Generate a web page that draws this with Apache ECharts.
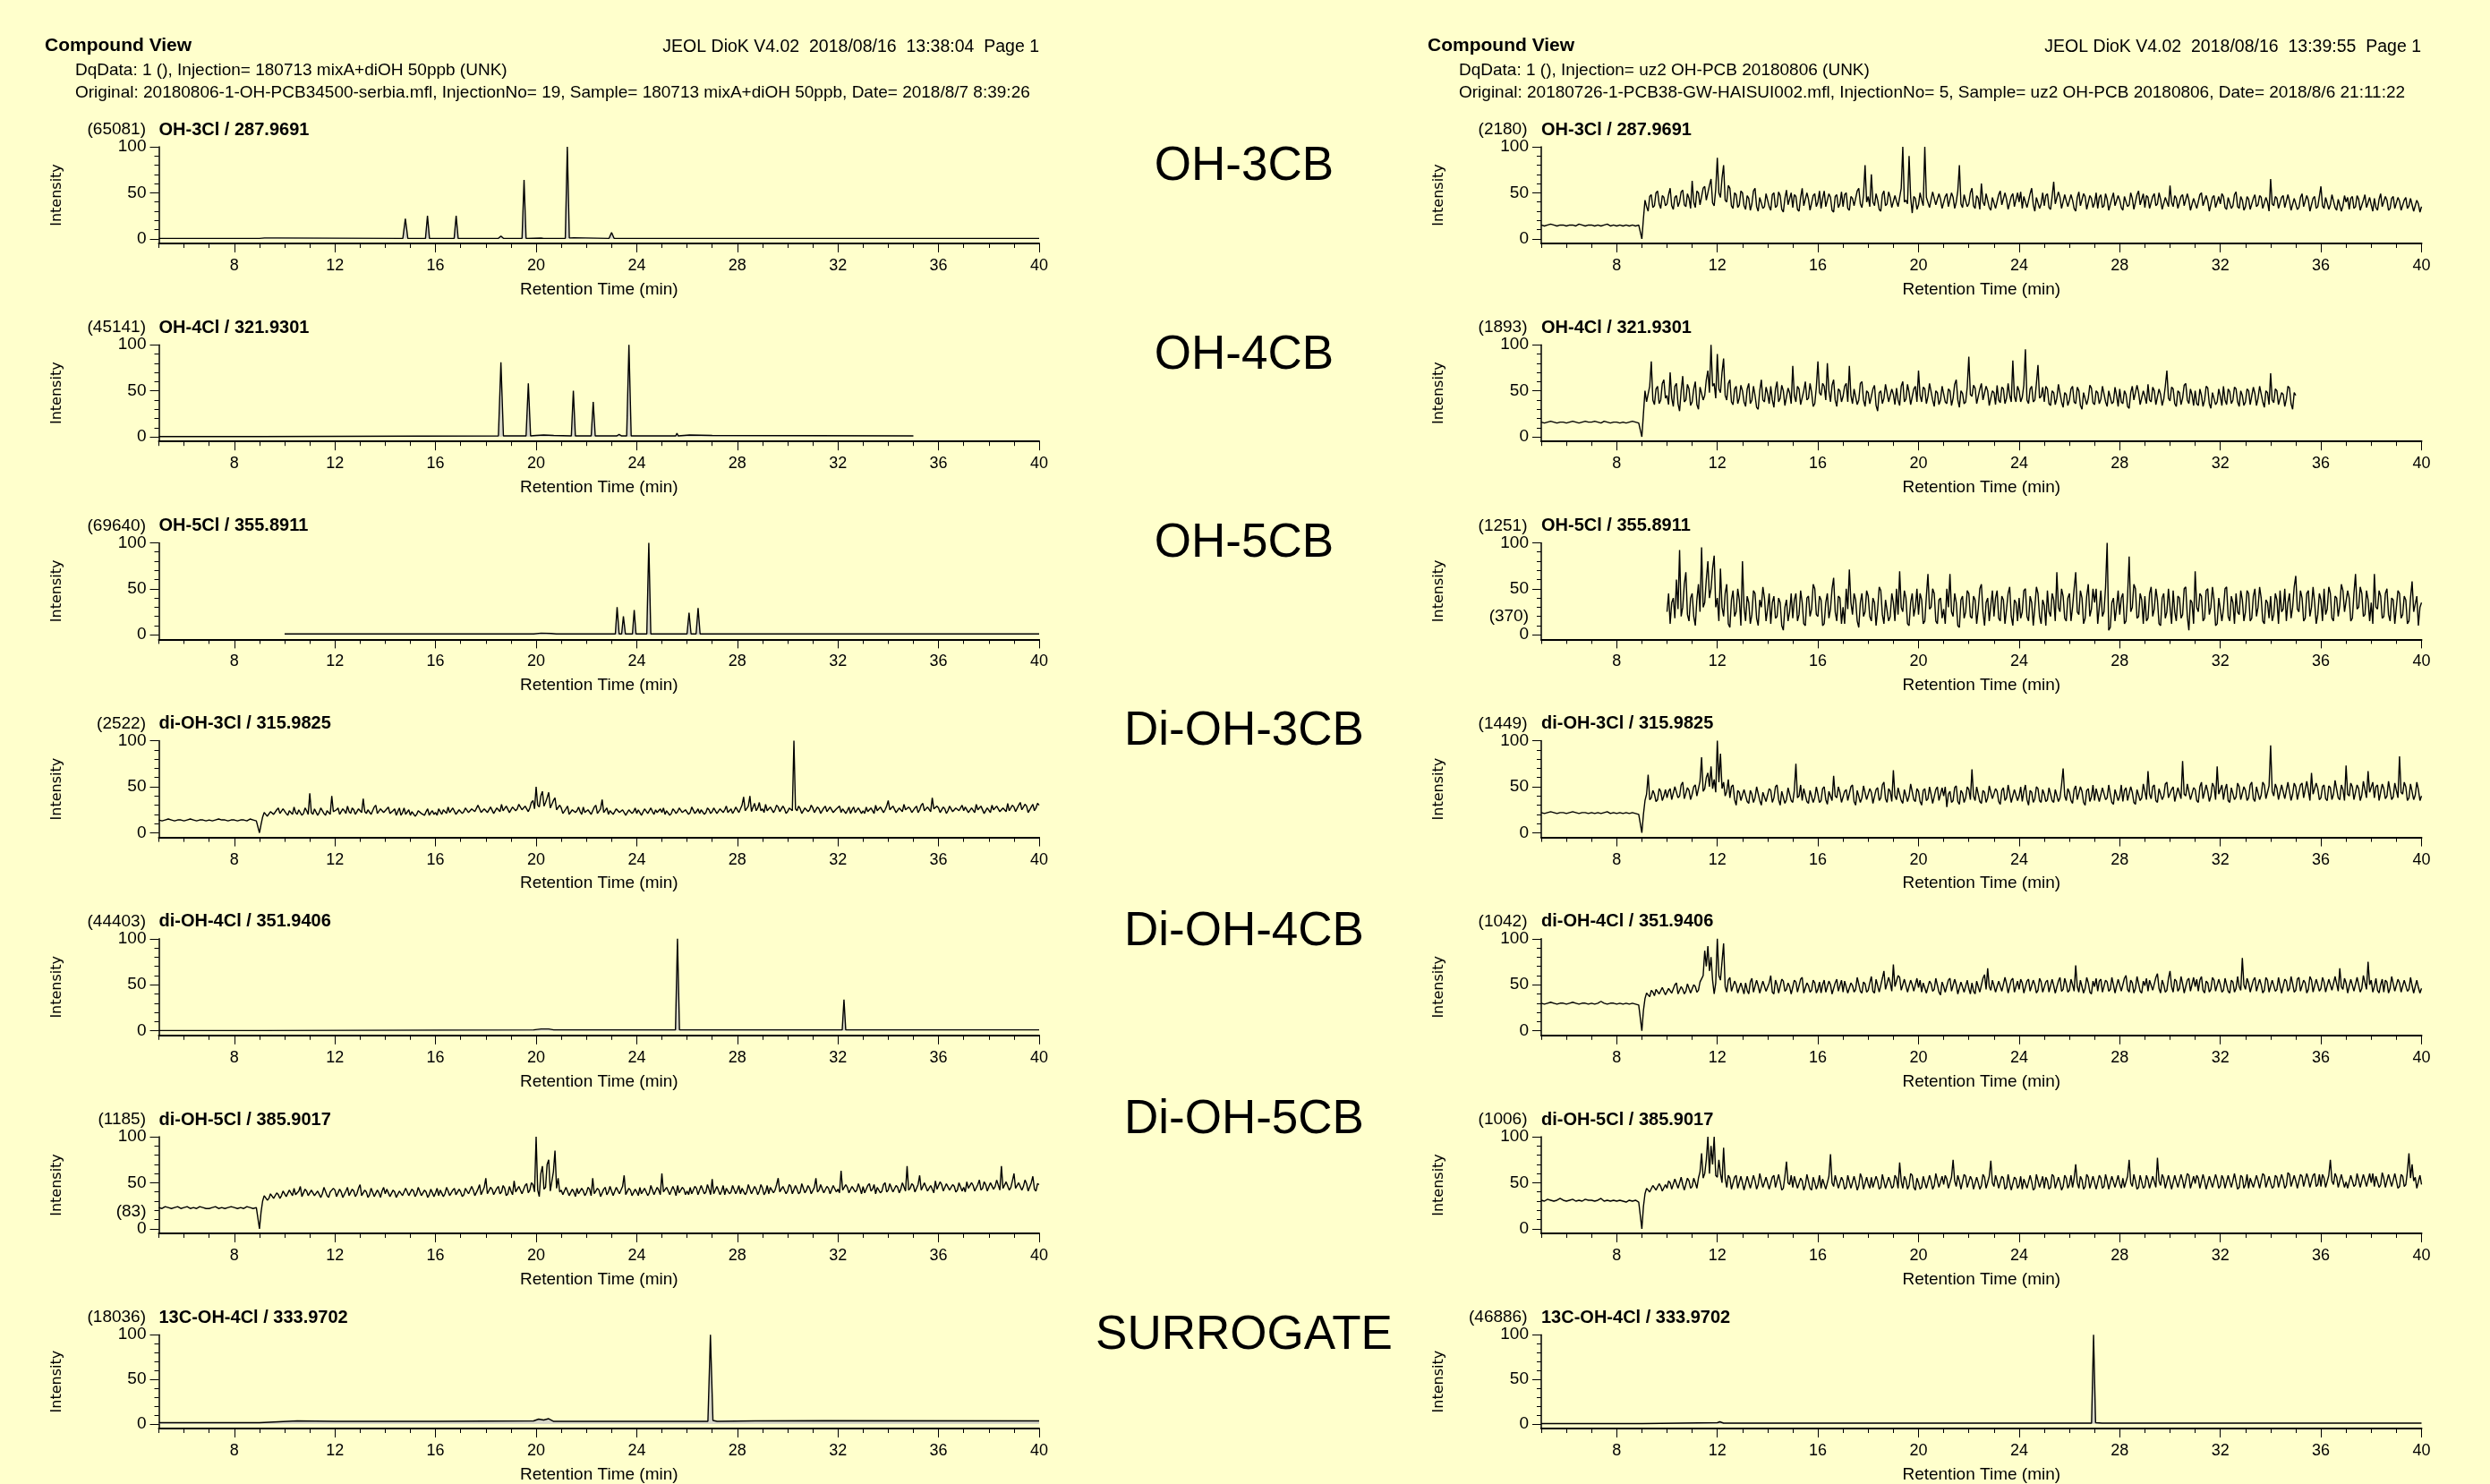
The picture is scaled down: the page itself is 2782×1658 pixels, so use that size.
<!DOCTYPE html>
<html><head><meta charset="utf-8">
<script src="https://cdn.jsdelivr.net/npm/echarts@6/dist/echarts.min.js"></script>
<style>html,body{margin:0;padding:0;background:#ffffcc;}#c{width:2782px;height:1658px;}</style>
</head><body><div id="c"></div>
<script>
// ---------------- tick labels ----------------
const X_TICK_LABELS = [8, 12, 16, 20, 24, 28, 32, 36, 40];
const Y_TICK_LABELS = [0, 50, 100];
const Y_MINOR_TICKS = [10, 20, 30, 40, 60, 70, 80, 90];

// ---------------- texts ----------------
const HEAD_LEFT = {
  title: 'Compound View',
  stamp: 'JEOL DioK V4.02  2018/08/16  13:38:04  Page 1',
  line1: 'DqData: 1 (), Injection= 180713 mixA+diOH 50ppb (UNK)',
  line2: 'Original: 20180806-1-OH-PCB34500-serbia.mfl, InjectionNo= 19, Sample= 180713 mixA+diOH 50ppb, Date= 2018/8/7 8:39:26'
};
const HEAD_RIGHT = {
  title: 'Compound View',
  stamp: 'JEOL DioK V4.02  2018/08/16  13:39:55  Page 1',
  line1: 'DqData: 1 (), Injection= uz2 OH-PCB 20180806 (UNK)',
  line2: 'Original: 20180726-1-PCB38-GW-HAISUI002.mfl, InjectionNo= 5, Sample= uz2 OH-PCB 20180806, Date= 2018/8/6 21:11:22'
};
const CENTER_LABELS = ['OH-3CB', 'OH-4CB', 'OH-5CB', 'Di-OH-3CB', 'Di-OH-4CB', 'Di-OH-5CB', 'SURROGATE'];
const CHANNELS = ['OH-3Cl / 287.9691', 'OH-4Cl / 321.9301', 'OH-5Cl / 355.8911', 'di-OH-3Cl / 315.9825',
                  'di-OH-4Cl / 351.9406', 'di-OH-5Cl / 385.9017', '13C-OH-4Cl / 333.9702'];
const COUNTS_LEFT = ['(65081)', '(45141)', '(69640)', '(2522)', '(44403)', '(1185)', '(18036)'];
const COUNTS_RIGHT = ['(2180)', '(1893)', '(1251)', '(1449)', '(1042)', '(1006)', '(46886)'];

// ---------------- peak traces: [time (min), intensity (%)] ----------------
const L1_OH3 = [[5,0.5],[9,0.5],[9.2,1],[9.7,1],[14.7,0.5],[14.8,22],[14.9,0.5],[15.6,0.5],[15.68,25],[15.76,0.5],
  [16.3,0.5],[16.35,1.5],[16.4,0.5],[16.74,0.5],[16.82,25],[16.9,0.5],[18.5,0.5],[18.6,3],[18.7,0.5],[19.44,0.5],
  [19.52,64],[19.6,0.5],[20.2,0.8],[20.25,1.8],[20.3,0.5],[20.7,0.5],[20.75,2],[20.8,0.5],[21.16,0.5],[21.24,100],
  [21.32,1],[21.5,1.2],[22.9,0.5],[23.0,7],[23.1,0.5],[25.6,0.5],[25.65,1.5],[25.7,0.5],[40,0.5]];
const L2_OH4 = [[5,0.3],[9,0.3],[9.05,1],[18.5,1],[18.6,81],[18.7,1],[19.6,1],[19.69,58],[19.78,1],[20.0,1.5],
  [20.3,2],[20.7,1.5],[21.4,1],[21.48,50],[21.56,1],[22.19,1],[22.27,38],[22.35,1],[23.2,1],[23.3,2.5],[23.4,1],
  [23.6,1],[23.69,100],[23.78,1],[24.5,1],[25.55,1],[25.6,4],[25.65,1],[26.1,2],[27.0,1.5],[35,1]];
const L3_OH5 = [[10,1],[19.9,1],[20.2,1.8],[20.6,1.5],[20.8,1],[23.15,1],[23.22,30],[23.3,1],[23.4,1],[23.47,20],
  [23.55,1],[23.83,1],[23.9,27],[23.97,1],[24.4,1],[24.48,100],[24.56,1],[26.0,1],[26.08,24],[26.16,1],[26.36,1],
  [26.44,29],[26.52,1],[40,1]];
const L5_DIOH4 = [[5,0.3],[9,0.3],[9.05,0.8],[19.9,1],[20.2,2],[20.5,2],[20.7,1],[25.54,1],[25.62,100],[25.7,1],
  [32.17,1],[32.24,34],[32.31,1],[40,1]];
const L7_SURR = [[5,1.5],[9,1.5],[9.05,3],[10.5,3.5],[12,3],[16,3],[19.9,3.5],[20.1,5.5],[20.3,4.5],[20.5,6],[20.7,3],
  [26.83,3],[26.93,100],[27.03,4],[27.2,3],[28.7,3.5],[31.5,3.8],[40,3.5]];
const R7_SURR = [[5,0.5],[9,0.5],[9.05,1],[12,1.5],[12.1,2.5],[12.25,1],[26.88,1],[26.96,100],[27.04,1.5],[27.3,1],[40,1]];

// ---------------- noisy traces ----------------
// PRE: 5.0 -> 8.875 min, one value every 0.125 min (8 per line = 1 min)
// POST: from 9 min (R3: from 10 min), one value every 0.0625 min (16 per line = 1 min)
const PRE_STEP = 0.125, POST_STEP = 0.0625;

const L4_PRE = [14,13,14,15,14,13,14,14, 13,14,15,14,13,14,14,13, 14,13,14,15,14,14,13,14, 14,13,14,14,13,15,14,13];
const L4_POST = [
0,9,17,22,20,18,19,23,24,20,21,25,27,21,22,26,
25,21,19,24,23,20,28,22,20,25,26,19,21,27,24,20,
43,22,20,26,25,19,22,27,28,21,19,24,24,20,40,23,
22,25,27,20,20,26,24,21,29,23,21,27,25,20,23,26,
27,22,37,23,21,25,26,20,24,28,30,21,20,26,25,22,
22,26,28,21,20,24,26,19,23,27,19,22,27,20,21,25,
19,23,22,18,20,24,25,21,21,19,23,26,19,22,24,20,
22,19,26,23,20,25,24,21,28,22,22,27,26,20,21,25,
25,21,23,27,28,22,21,26,27,23,24,30,29,22,22,26,
26,22,23,28,29,21,22,27,27,23,31,24,24,29,28,22,
23,28,29,24,26,31,32,25,24,29,30,23,27,33,35,26,
50,30,28,40,45,29,33,38,44,27,26,35,38,25,24,30,
27,21,22,26,29,20,21,25,26,22,24,28,23,20,28,22,
21,25,26,20,24,28,30,21,22,26,36,22,23,27,20,24,
25,20,21,26,27,22,22,25,24,19,20,25,26,21,23,27,
21,25,24,19,20,26,26,21,22,27,23,20,25,22,21,26,
22,27,20,24,25,19,21,26,24,21,23,27,28,22,21,25,
24,20,22,28,27,21,23,26,21,25,26,20,22,27,25,21,
23,27,28,21,21,26,27,22,25,29,22,24,26,21,24,28,
27,22,23,30,39,24,25,29,40,23,28,32,24,27,33,24,
26,22,31,24,23,28,29,22,25,30,28,23,24,29,26,21,
23,27,28,24,100,26,24,29,26,21,22,27,28,23,25,30,
27,22,23,28,26,21,22,27,29,23,24,28,27,22,21,26,
25,29,22,26,27,21,24,28,21,25,28,22,23,27,26,21,
24,21,28,23,22,27,26,21,30,24,23,28,27,22,25,29,
35,25,24,29,28,22,22,27,27,23,31,25,24,28,26,22,
23,27,29,22,25,30,32,24,24,28,28,23,38,26,25,29,
27,22,23,28,26,21,24,29,30,23,22,27,28,24,25,30,
24,28,29,22,23,27,27,22,31,25,24,29,28,21,22,27,
26,22,30,25,24,29,29,23,22,27,28,23,32,24,25,30,
28,23,24,30,33,25,26,31,29,22,23,28,31,24,27,32,
30];

const L6_PRE = [23,22,24,23,22,23,24,22, 23,24,22,23,22,24,23,22, 22,23,24,22,23,22,23,24, 23,22,23,22,24,23,22,23];
const L6_POST = [
0,18,30,36,35,31,33,38,38,33,34,39,37,33,36,41,
40,35,34,42,39,36,44,37,36,41,46,35,35,43,41,36,
37,42,43,36,35,41,40,34,38,45,44,36,34,40,39,44,
42,35,36,43,40,34,35,41,45,36,37,43,41,35,38,44,
48,36,35,42,40,34,37,44,43,35,36,42,39,34,41,45,
38,43,44,35,36,42,40,34,35,41,42,36,37,44,45,36,
36,43,41,35,38,45,44,36,35,42,40,34,37,43,42,35,
39,44,36,42,43,35,38,45,41,36,35,42,44,37,37,43,
40,35,37,44,45,38,39,46,42,36,36,43,48,37,38,45,
55,38,39,45,43,37,37,44,46,38,40,47,44,36,38,46,
41,37,52,40,39,46,45,38,38,47,49,39,42,50,48,40,
100,42,35,60,68,43,45,70,75,41,40,62,85,44,55,40,
42,37,38,45,45,36,36,43,40,35,44,38,37,44,41,36,
39,45,43,36,55,38,38,44,42,35,36,43,45,37,40,46,
41,36,37,45,44,38,39,46,58,37,38,44,42,36,36,43,
40,36,45,38,37,44,43,36,39,47,46,37,38,45,42,37,
60,40,39,45,44,37,37,46,42,36,47,39,38,45,43,37,
41,37,45,38,39,46,44,37,38,47,46,38,40,48,43,37,
54,38,39,46,45,37,41,47,37,44,44,38,40,47,46,38,
42,47,38,44,45,37,40,48,47,38,39,46,43,37,41,48,
44,37,40,47,38,45,46,39,42,48,55,40,39,46,45,38,
41,48,46,38,39,47,43,38,40,49,48,39,42,47,44,38,
39,45,55,40,42,48,47,39,40,46,44,38,39,47,46,40,
43,39,63,42,41,48,45,39,39,46,47,40,42,49,44,38,
46,39,40,47,49,41,43,48,38,45,45,39,41,48,50,40,
42,49,48,40,40,47,45,39,43,50,51,41,68,42,44,49,
47,40,41,48,58,42,43,50,49,41,40,47,46,39,52,43,
44,51,48,41,41,49,50,42,43,48,46,40,42,50,49,41,
45,40,51,44,43,50,47,41,40,48,53,42,44,51,48,41,
42,50,49,43,46,53,52,42,68,44,44,51,50,42,45,52,
60,44,43,50,51,42,46,53,49,41,42,50,57,43,41,49,
48];

const R1_PRE = [15,14,15,16,15,14,15,15, 14,15,15,14,16,15,14,15, 15,14,15,14,15,16,14,15, 14,15,14,15,14,15,14,15];
const R1_POST = [
0,22,42,35,30,46,48,34,36,50,52,38,33,47,45,36,
38,48,55,36,32,45,47,35,40,51,53,37,35,49,44,33,
63,40,34,52,50,37,38,55,57,42,43,58,65,39,36,54,
88,50,45,66,80,42,40,58,55,36,33,50,48,34,37,52,
50,36,32,47,44,31,38,52,55,35,30,45,46,33,35,49,
42,35,31,48,50,34,36,51,47,32,29,44,53,37,38,50,
34,48,46,32,30,45,55,36,37,50,43,31,32,47,49,35,
40,52,33,44,52,35,36,49,45,31,29,46,48,34,38,51,
35,48,50,33,31,46,44,36,37,52,55,38,34,47,80,40,
46,35,70,40,36,49,42,32,30,48,52,36,38,51,45,34,
33,47,48,35,36,55,100,40,42,38,90,45,28,46,44,32,
37,50,42,36,100,45,46,34,35,51,52,37,38,49,43,33,
32,46,49,35,36,50,45,33,40,52,80,38,34,48,47,35,
38,50,55,36,33,47,44,32,60,40,36,49,48,34,31,45,
45,33,34,48,52,37,37,50,43,32,31,46,49,35,36,50,
40,51,33,46,47,34,35,49,55,37,30,45,44,33,38,50,
36,47,49,34,32,46,62,38,38,51,45,33,33,48,48,35,
35,48,42,33,30,45,51,36,37,49,46,32,32,47,44,34,
39,50,33,45,48,34,36,49,43,31,30,44,50,36,35,47,
42,34,31,46,47,35,37,50,44,32,33,48,52,37,36,49,
34,47,45,33,32,46,49,36,38,50,43,32,31,45,46,35,
58,40,35,47,44,33,32,46,48,36,37,49,42,31,30,44,
45,33,34,48,50,36,36,47,41,30,31,45,47,34,35,46,
38,49,46,34,32,45,44,33,36,48,51,35,33,46,42,31,
35,46,43,32,31,44,48,35,37,47,45,33,33,45,40,30,
65,38,36,46,44,33,32,45,47,34,35,48,41,31,30,44,
43,32,34,45,49,35,36,47,42,30,31,44,46,33,35,46,
57,36,33,45,44,32,37,48,48,34,31,43,42,30,36,47,
40,45,32,44,46,33,35,47,43,31,30,42,48,34,34,45,
37,30,44,34,31,43,49,35,35,46,42,31,33,44,46,33,
34,45,41,31,30,42,45,33,36,44,43,30,31,42,38,29,
35];

const R2_PRE = [16,15,16,17,16,15,16,16, 15,16,17,16,15,16,17,16, 16,17,16,15,17,16,15,16, 16,15,16,15,16,17,16,15];
const R2_POST = [ // ends at 35 min
0,25,50,38,38,55,82,40,35,52,55,36,40,58,62,42,
45,35,70,42,33,55,58,36,28,50,66,38,40,57,52,34,
38,52,60,35,30,54,55,40,45,62,72,48,100,55,58,42,
90,52,48,70,85,45,40,58,62,38,35,52,55,36,42,56,
50,38,33,52,58,36,40,55,45,32,30,50,62,40,38,54,
47,36,55,40,32,52,60,38,42,56,50,34,35,53,48,36,
77,45,38,55,52,35,34,50,60,40,42,58,48,33,36,54,
82,48,45,58,55,40,80,50,38,56,62,40,33,52,50,38,
44,55,58,38,77,45,36,52,52,35,40,58,60,40,33,50,
48,36,35,52,56,34,28,48,50,36,42,57,58,38,37,52,
46,35,53,40,34,55,60,38,41,57,48,35,36,52,55,38,
72,45,38,54,52,36,44,58,59,40,33,50,48,35,40,55,
55,38,36,52,50,34,42,57,62,40,32,50,47,36,38,54,
87,46,44,56,53,36,35,52,58,40,40,55,50,34,33,50,
48,35,56,40,37,54,52,36,42,58,45,38,83,44,38,55,
50,38,43,56,95,40,36,52,55,38,40,58,78,42,44,54,
38,55,52,36,34,50,48,35,42,57,56,38,32,48,46,34,
40,52,55,38,36,54,50,34,30,48,47,35,42,56,53,37,
35,50,48,36,41,55,56,38,33,50,50,36,38,54,45,33,
52,38,36,50,46,33,31,48,55,40,40,56,48,35,34,50,
44,36,57,40,38,54,50,35,35,52,46,34,41,55,72,42,
39,54,52,36,33,50,48,35,42,56,58,40,36,52,46,34,
50,36,34,52,45,33,40,55,53,36,31,48,47,35,38,52,
44,34,55,40,35,52,49,36,40,54,52,38,33,50,45,34,
38,52,50,35,36,54,47,34,42,55,55,38,32,50,48,35,
69,40,37,52,50,35,34,48,46,33,41,55,53,36,30,48,
45];

const R3_POST = [ // starts at 10 min
25,45,12,35,40,18,60,28,92,20,30,55,68,22,15,40,
45,20,10,38,55,25,95,30,35,60,80,40,50,72,86,30,
40,15,72,30,20,45,55,12,8,38,48,20,25,50,38,10,
80,30,15,42,35,12,22,48,45,18,10,38,30,52,40,15,
28,45,12,35,42,18,20,40,35,10,5,30,38,15,25,45,
18,38,45,15,22,48,35,12,10,40,42,20,28,55,50,22,
20,42,38,10,12,35,45,18,28,50,62,25,15,42,40,12,
30,12,50,28,71,35,22,45,38,15,8,35,45,20,25,48,
42,20,15,40,35,10,28,52,48,22,12,38,38,15,20,45,
35,15,50,22,69,30,25,48,40,12,10,35,45,20,30,50,
22,45,38,12,15,42,66,28,30,50,45,15,12,38,40,18,
28,12,50,30,66,25,20,45,35,10,8,38,42,18,25,48,
45,20,18,42,38,12,28,50,55,25,10,35,40,15,32,48,
20,40,48,18,15,42,38,12,28,45,52,20,10,38,35,15,
40,18,25,48,50,20,15,42,35,10,30,52,45,20,12,38,
32,10,48,25,20,45,38,15,68,30,25,50,42,18,15,40,
45,15,30,50,68,25,22,48,40,12,18,42,55,20,28,50,
35,50,12,30,48,20,25,52,100,5,8,35,40,15,30,48,
22,40,45,12,15,42,85,25,30,55,50,18,20,45,38,12,
42,15,18,45,52,20,28,50,38,12,10,40,45,18,25,50,
30,12,48,25,15,42,40,18,22,50,52,20,5,38,35,12,
69,30,25,45,42,15,18,48,50,22,30,52,38,10,12,40,
40,15,28,50,52,20,15,42,35,12,45,25,22,48,38,15,
25,48,45,15,18,42,50,20,30,52,40,15,12,38,35,18,
42,15,22,45,38,12,48,25,28,50,15,35,45,18,30,52,
64,28,25,48,40,15,18,45,48,20,30,52,35,12,22,45,
38,15,50,22,28,52,45,18,15,42,40,20,32,55,48,25,
25,48,40,15,18,45,66,28,30,52,45,20,22,48,38,15,
35,12,66,30,28,48,42,18,20,45,50,22,15,40,38,12,
30,48,45,18,22,42,38,12,15,40,58,25,25,42,10,30,
35];

const R4_PRE = [22,21,22,23,22,21,22,22, 21,22,23,22,21,22,22,21, 22,21,22,21,22,23,21,22, 21,22,21,22,21,22,21,20];
const R4_POST = [
0,20,35,42,63,36,38,46,42,34,36,48,45,35,40,47,
38,45,48,36,35,50,50,38,40,52,55,37,37,49,46,36,
42,50,52,40,40,56,82,45,48,60,65,50,72,48,58,44,
100,55,86,48,55,40,45,58,38,50,52,36,30,46,44,35,
36,47,48,34,32,46,42,33,38,50,50,35,30,44,45,34,
34,48,46,33,38,50,52,36,30,45,44,32,36,49,48,35,
33,46,75,38,40,52,35,48,48,34,32,46,45,33,38,50,
42,33,35,48,50,36,31,45,46,35,62,40,38,50,44,33,
33,45,47,35,36,50,52,34,30,46,45,33,38,51,50,36,
35,48,44,32,31,47,49,35,38,52,55,37,33,48,45,34,
68,40,36,49,50,35,32,47,46,34,40,53,52,36,34,48,
45,34,30,46,48,35,37,50,42,32,33,47,50,35,36,49,
40,50,28,42,45,33,35,49,51,34,31,46,43,33,38,50,
47,36,69,40,35,50,50,34,32,46,44,33,38,51,52,37,
36,48,45,34,31,46,49,35,38,52,43,33,33,47,47,35,
40,50,34,45,52,36,30,46,44,33,37,50,48,35,33,47,
42,34,36,49,50,35,33,47,46,34,38,52,70,40,35,48,
44,35,32,47,51,36,37,50,45,33,30,46,48,34,39,52,
35,48,47,34,33,49,50,36,38,52,42,33,31,47,46,35,
40,52,34,46,49,35,36,50,44,33,31,47,48,35,38,53,
45,36,67,42,37,50,52,35,33,48,47,36,40,53,55,38,
38,47,50,34,35,49,48,37,78,42,40,53,52,36,36,49,
47,35,33,50,55,37,38,52,45,34,40,54,50,36,72,42,
42,52,36,47,53,35,33,49,48,36,39,54,50,36,35,50,
46,35,38,52,55,37,34,50,49,36,41,55,52,37,37,51,
95,45,40,53,48,36,35,52,52,37,38,55,45,35,42,54,
50,36,37,52,54,38,39,56,46,35,65,42,41,54,48,36,
38,50,52,37,35,51,49,36,42,57,56,38,36,52,47,35,
73,42,40,54,50,36,37,52,48,35,41,56,55,38,67,44,
44,55,38,50,52,35,36,53,48,37,40,56,55,36,39,54,
46,38,83,44,42,55,50,35,38,53,54,36,41,55,47,35,
40];

const R5_PRE = [30,29,30,31,30,29,30,30, 29,30,31,30,29,30,30,29, 30,29,30,32,30,29,30,30, 29,30,29,30,29,30,29,28];
const R5_POST = [
0,22,35,41,40,37,44,42,38,45,46,40,41,47,43,39,
40,46,47,41,42,50,52,40,39,48,45,40,43,51,50,41,
41,50,48,42,44,53,52,60,87,70,92,65,80,55,40,52,
100,60,55,75,95,48,42,55,58,43,44,54,50,41,41,52,
46,40,52,44,40,53,57,42,43,55,49,41,41,54,55,43,
44,52,60,42,40,55,50,41,42,56,54,43,45,52,48,40,
41,55,53,42,43,56,58,41,40,52,49,42,44,55,52,41,
45,53,41,50,55,42,43,54,50,40,39,52,56,43,44,55,
42,54,53,41,40,52,49,42,45,58,57,43,41,53,51,42,
44,52,59,43,41,56,55,42,43,57,65,45,46,58,52,43,
72,48,47,60,58,44,43,56,55,42,41,55,50,43,44,57,
47,55,42,52,53,41,40,54,51,43,45,57,56,42,39,53,
48,42,41,55,57,43,44,56,50,40,40,53,54,42,43,55,
46,40,52,43,40,54,55,42,43,57,61,45,68,48,44,55,
49,42,41,54,55,43,44,58,51,41,40,55,57,42,43,54,
45,56,52,41,40,54,56,43,42,55,50,41,44,57,53,42,
41,53,55,42,43,56,49,41,40,54,58,43,45,57,51,42,
44,56,50,43,71,48,42,55,55,41,46,58,52,42,40,54,
48,57,43,54,56,42,41,55,53,43,45,58,50,41,42,56,
55,43,44,57,60,45,42,55,52,41,46,59,58,43,41,54,
49,57,43,55,56,44,45,58,62,46,41,55,50,42,44,57,
65,48,42,56,54,43,46,59,51,41,40,55,57,43,44,58,
48,56,43,55,59,44,41,54,52,42,45,58,55,43,42,56,
50,42,44,57,57,43,41,55,53,42,46,59,48,44,79,50,
45,57,52,42,41,55,58,43,43,56,50,41,44,58,55,42,
42,55,56,43,45,58,49,41,41,56,54,43,46,59,51,42,
44,56,58,43,42,55,52,41,45,59,55,42,41,56,50,43,
46,58,53,42,43,56,57,44,44,59,51,43,68,48,45,57,
52,41,42,56,57,43,44,58,50,42,46,60,59,45,75,50,
55,42,48,57,44,41,50,56,42,55,53,41,46,59,58,43,
44,56,52,42,41,55,55,43,45,58,49,41,42,55,47,41,
46];

const R6_PRE = [31,30,32,31,30,31,33,31, 30,31,32,30,31,30,32,31, 31,30,31,33,30,31,30,31, 30,31,30,29,31,30,31,29];
const R6_POST = [
0,24,38,44,45,40,40,47,48,42,42,49,46,41,41,48,
44,52,50,43,42,54,55,44,45,56,48,42,43,55,52,44,
46,55,50,44,55,62,82,55,60,75,100,60,90,70,100,58,
56,75,60,50,88,55,45,58,55,43,42,56,58,44,44,57,
50,42,43,57,56,44,45,58,52,43,48,60,60,45,44,56,
55,43,42,56,58,45,46,59,51,42,44,57,73,50,48,58,
45,57,56,44,43,55,52,42,47,59,58,44,42,56,50,43,
48,58,44,54,55,43,42,57,81,50,46,58,57,44,43,56,
52,43,45,58,58,44,43,57,50,42,47,60,55,43,42,56,
49,44,56,45,44,57,52,43,45,59,58,44,43,56,51,44,
46,58,55,44,72,52,44,57,53,43,47,60,58,45,42,55,
50,43,45,57,56,44,43,58,52,43,47,60,59,45,44,57,
48,58,54,44,43,56,75,52,46,58,52,43,44,59,57,45,
45,57,53,43,42,56,50,43,47,59,56,44,43,57,74,50,
46,58,52,44,43,57,55,43,45,59,50,42,42,56,54,44,
47,57,43,54,55,44,45,58,51,42,44,59,58,45,46,57,
44,56,52,43,45,59,57,44,43,56,50,42,46,58,55,44,
48,58,45,55,70,50,44,57,53,43,46,59,56,44,43,57,
50,43,44,58,55,44,46,59,52,43,43,57,57,45,45,58,
49,44,55,45,44,57,75,50,46,59,52,43,45,58,58,44,
46,58,53,44,44,57,56,45,77,52,47,59,55,44,45,58,
51,43,44,58,57,45,46,59,53,44,45,60,58,44,44,57,
49,58,55,44,45,59,52,43,44,57,58,45,46,59,53,44,
47,58,54,44,44,58,57,45,46,60,51,43,45,58,56,44,
48,59,44,55,55,45,46,58,52,44,45,60,58,45,44,57,
50,44,46,58,56,45,44,59,53,44,47,61,59,46,45,58,
52,44,45,59,57,46,47,60,54,45,44,58,60,46,48,59,
46,59,55,45,45,58,75,52,48,60,56,45,46,59,58,45,
51,44,45,58,57,46,48,60,53,45,46,59,59,46,47,60,
50,60,46,57,58,45,48,61,55,45,45,59,60,46,47,60,
52,44,46,59,57,46,48,62,82,55,70,52,56,44,45,58,
48];

// ---------------- layout ----------------
const COLS = [{left: 177.5, width: 983.5, countGap: 14.5}, {left: 1722, width: 983.5, countGap: 15.5}];
const ROW_TOP0 = 164, ROW_STEP = 221.2, GRID_H = 108;
const CENTER_Y = [186, 397, 607, 817, 1041, 1251, 1492];
const FONT = 'Liberation Sans, Arial, sans-serif';

function trace(pre, post, postStart) {
  const out = [];
  if (pre) pre.forEach((v, i) => out.push([5 + i * PRE_STEP, v]));
  post.forEach((v, i) => out.push([postStart + i * POST_STEP, v]));
  return out;
}

const PANELS = [
  {col:0,row:0,data:L1_OH3,area:true},
  {col:0,row:1,data:L2_OH4,area:true},
  {col:0,row:2,data:L3_OH5,area:true},
  {col:0,row:3,data:trace(L4_PRE,L4_POST,9),area:false},
  {col:0,row:4,data:L5_DIOH4,area:true},
  {col:0,row:5,data:trace(L6_PRE,L6_POST,9),area:false,extra:{v:19,t:'(83)'}},
  {col:0,row:6,data:L7_SURR,area:true},
  {col:1,row:0,data:trace(R1_PRE,R1_POST,9),area:false},
  {col:1,row:1,data:trace(R2_PRE,R2_POST,9),area:false},
  {col:1,row:2,data:trace(null,R3_POST,10),area:false,extra:{v:20,t:'(370)'}},
  {col:1,row:3,data:trace(R4_PRE,R4_POST,9),area:false},
  {col:1,row:4,data:trace(R5_PRE,R5_POST,9),area:false},
  {col:1,row:5,data:trace(R6_PRE,R6_POST,9),area:false},
  {col:1,row:6,data:R7_SURR,area:true}
];

const grid = [], xAxis = [], yAxis = [], series = [], graphic = [];
function txt(x, y, text, font, align, valign) {
  graphic.push({type:'text', x:x, y:y, silent:true, z:10,
    style:{text:text, font:font, fill:'#000', align:align||'left', verticalAlign:valign||'middle',
           textAlign:align||'left', textVerticalAlign:valign||'middle'}});
}

PANELS.forEach((p, k) => {
  const c = COLS[p.col];
  const top = ROW_TOP0 + ROW_STEP * p.row;
  grid.push({left:c.left, top:top, width:c.width, height:GRID_H, containLabel:false});
  const xi = xAxis.length, yi = yAxis.length;
  const labelVals = p.extra ? [0, p.extra.v, 50, 100] : Y_TICK_LABELS;
  xAxis.push({type:'value', gridIndex:k, min:5, max:40, interval:1, position:'bottom',
    axisLine:{show:true, onZero:false, lineStyle:{color:'#000', width:2}},
    axisTick:{show:true, length:5, lineStyle:{color:'#000', width:1}},
    axisLabel:{show:true, customValues:X_TICK_LABELS, fontSize:18, color:'#000', margin:16, fontFamily:FONT},
    splitLine:{show:false},
    name:'Retention Time (min)', nameLocation:'middle', nameGap:42,
    nameTextStyle:{fontSize:19, color:'#000', fontFamily:FONT}});
  xAxis.push({type:'value', gridIndex:k, min:5, max:40, position:'bottom',
    axisLine:{show:false, onZero:false},
    axisTick:{show:true, customValues:X_TICK_LABELS, length:10, lineStyle:{color:'#000', width:1}},
    axisLabel:{show:false}, splitLine:{show:false}});
  yAxis.push({type:'value', gridIndex:k, min:-5, max:100, position:'left',
    axisLine:{show:true, onZero:false, lineStyle:{color:'#000', width:1.5}},
    axisTick:{show:true, customValues:Y_TICK_LABELS, length:10, lineStyle:{color:'#000', width:1}},
    axisLabel:{show:true, customValues:labelVals, fontSize:19, color:'#000', margin:14, fontFamily:FONT,
      formatter: (v) => (p.extra && v === p.extra.v) ? p.extra.t : String(v)},
    splitLine:{show:false},
    name:'Intensity', nameLocation:'middle', nameRotate:90, nameGap:106,
    nameTextStyle:{fontSize:16, color:'#000', fontFamily:'DejaVu Sans'}});
  yAxis.push({type:'value', gridIndex:k, min:-5, max:100, position:'left',
    axisLine:{show:false, onZero:false},
    axisTick:{show:true, customValues:Y_MINOR_TICKS, length:5, lineStyle:{color:'#000', width:1}},
    axisLabel:{show:false}, splitLine:{show:false}});
  const s = {type:'line', xAxisIndex:xi, yAxisIndex:yi, data:p.data, showSymbol:false, symbol:'none',
    lineStyle:{color:'#000', width:1.4}, silent:true, animation:false, clip:true, z:3};
  if (p.area) s.areaStyle = {color:'rgba(150,150,195,0.55)'};
  series.push(s);

  const ly = 145 + ROW_STEP * p.row;
  const counts = p.col === 0 ? COUNTS_LEFT : COUNTS_RIGHT;
  txt(c.left - c.countGap, ly, counts[p.row], '19px ' + FONT, 'right');
  txt(c.left, ly, CHANNELS[p.row], 'bold 20px ' + FONT, 'left');
});

// headers
[[HEAD_LEFT, 50, 84, 1161], [HEAD_RIGHT, 1595, 1630, 2705]].forEach(([h, tx, lx, rx]) => {
  txt(tx, 51, h.title, 'bold 21px ' + FONT, 'left');
  txt(rx, 53, h.stamp, '19.5px ' + FONT, 'right');
  txt(lx, 79, h.line1, '19px ' + FONT, 'left');
  txt(lx, 104, h.line2, '19px ' + FONT, 'left');
});
CENTER_LABELS.forEach((t, i) => txt(1390, CENTER_Y[i], t, '53px ' + FONT, 'center'));

const chart = echarts.init(document.getElementById('c'), null, {renderer:'canvas', width:2782, height:1658});
chart.setOption({backgroundColor:'#ffffcc', animation:false, grid, xAxis, yAxis, series, graphic});
</script></body></html>
